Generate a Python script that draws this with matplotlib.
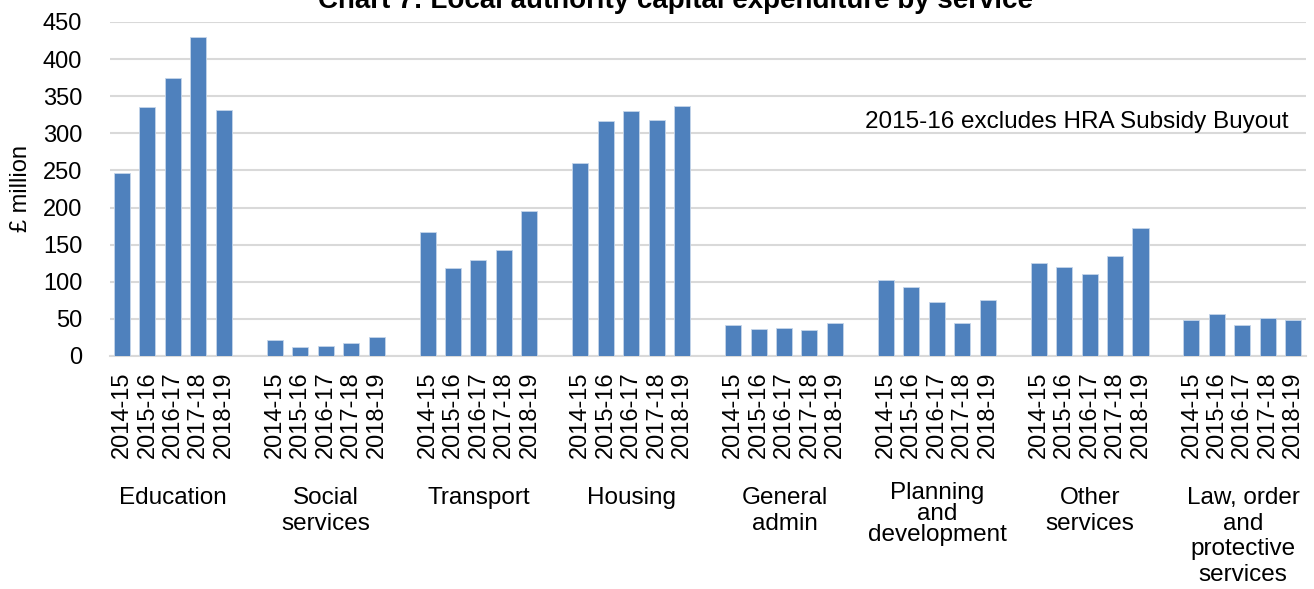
import matplotlib.pyplot as plt
import numpy as np

plt.rcParams['font.family'] = ['Liberation Sans', 'DejaVu Sans']

# data (£ million)
years = ["2014-15", "2015-16", "2016-17", "2017-18", "2018-19"]
categories = ["Education", "Social\nservices", "Transport", "Housing", "General\nadmin",
              "Planning\nand\ndevelopment", "Other\nservices", "Law, order\nand\nprotective\nservices"]
education = [246, 335, 374, 430, 331]
social_services = [22, 12, 14, 17, 26]
transport = [167, 119, 129, 143, 196]
housing = [260, 316, 330, 318, 337]
general_admin = [42, 36, 38, 35, 44]
planning = [103, 93, 73, 44, 76]
other_services = [125, 120, 110, 135, 172]
law_order = [48, 57, 42, 51, 48]
series = [education, social_services, transport, housing, general_admin,
          planning, other_services, law_order]

W, H = 1314, 589
fig = plt.figure(figsize=(W / 100, H / 100), dpi=100)
ax = fig.add_axes([110 / W, 1 - 356 / H, (1306 - 110) / W, (356 - 22) / H])

# each service gets 5 bars followed by one empty slot
xs, vals, labels = [], [], []
for g, vs in enumerate(series):
    for j, v in enumerate(vs):
        xs.append(g * 6 + j)
        vals.append(v)
        labels.append(years[j])
xs = np.array(xs)

ax.bar(xs, vals, width=0.63, color='#4F81BD', edgecolor='#C5D5EA', linewidth=0.6, zorder=3)

ax.set_ylim(0, 450)
ax.set_yticks(range(0, 451, 50))
ax.set_xlim(-0.47, 46.5)
ax.set_xticks(xs)
ax.set_xticklabels(labels, rotation=90, fontsize=17)
ax.tick_params(axis='x', length=0, pad=11)
ax.tick_params(axis='y', length=0, pad=20, labelsize=17)
ax.grid(axis='y', color='#D9D9D9', linewidth=1.5, zorder=0)
for s in ['top', 'right', 'left']:
    ax.spines[s].set_visible(False)
ax.spines['bottom'].set_color('#D9D9D9')
ax.spines['bottom'].set_linewidth(1.5)

ax.set_ylabel("£ million", fontsize=17, labelpad=8)

# group labels under the year labels
for g, cat in enumerate(categories):
    ytop = 482 if g == 5 else 487
    ls = 0.95 if g == 5 else 1.22
    fig.text((110 + (g * 6 + 2 + 0.47) * 25.48) / W, 1 - ytop / H, cat,
             ha='center', va='top', fontsize=17.5, linespacing=ls)

ax.text(0.985, 0.70, "2015-16 excludes HRA Subsidy Buyout", transform=ax.transAxes,
        ha='right', va='center', fontsize=17.5)

fig.text(676 / W, 1 - 8 / H, "Chart 7: Local authority capital expenditure by service",
         ha='center', va='baseline', fontsize=20, fontweight='bold')

fig.savefig("out.png", dpi=100)
plt.close()
